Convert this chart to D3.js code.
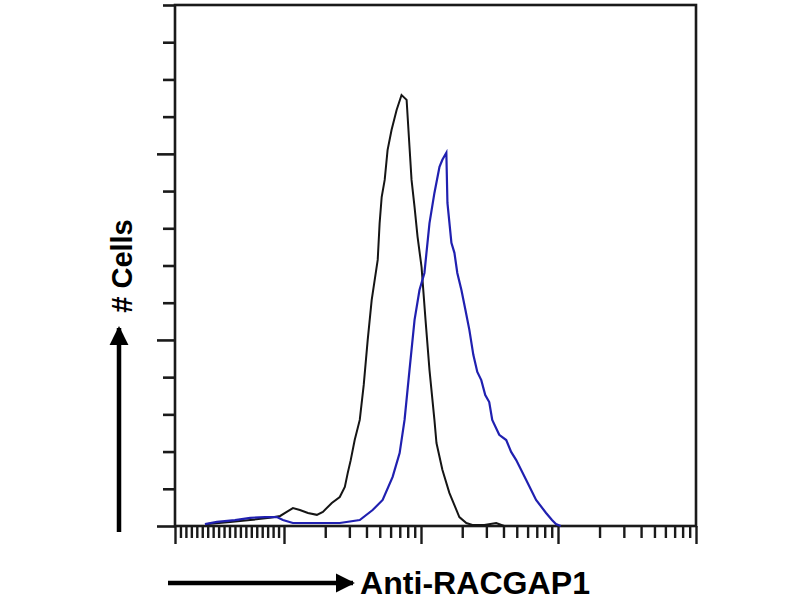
<!DOCTYPE html>
<html><head><meta charset="utf-8">
<script src="https://cdn.jsdelivr.net/npm/d3@7"></script>
<style>html,body{margin:0;padding:0;background:#fff}</style>
</head><body>
<svg id="chart" width="800" height="600"></svg>
<script>
// x values: log10 of fluorescence (first two units are the compressed/linear region)
const controlX = [0.55,1.01,1.38,1.74,1.93,2.02,2.065,2.116,2.175,2.24,2.284,2.349,2.407,2.444,2.465,2.487,2.516,2.553,2.582,2.611,2.64,2.684,2.698,2.713,2.735,2.756,2.785,2.822,2.858,2.895,2.916,2.931,2.953,2.975,3.004,3.033,3.062,3.098,3.113,3.156,3.207,3.28,3.331,3.375,3.462,3.549,3.607];
const controlY = [0.5,1.1,1.6,2.2,2.7,3.8,4.8,4.3,3.5,3.0,3.8,6.2,7.8,10.5,14.2,17.7,23.1,28.5,37.9,50.0,60.7,71.5,81.4,88.4,93.0,101.0,106.4,111.8,115.8,114.5,101.9,93.0,85.7,77.7,69.6,55.4,41.9,28.5,22.3,15.1,8.9,2.4,0.8,0.3,0.3,0.8,0];
const stainX = [0.55,0.77,1.1,1.38,1.65,1.87,1.98,2.065,2.24,2.407,2.553,2.647,2.72,2.793,2.844,2.88,2.916,2.953,2.989,3.025,3.062,3.098,3.135,3.156,3.185,3.193,3.222,3.244,3.265,3.295,3.324,3.353,3.382,3.411,3.44,3.469,3.498,3.52,3.571,3.622,3.658,3.695,3.767,3.84,3.913,3.956,3.985,4.02];
const stainY = [0.5,1.1,1.6,2.2,2.4,2.4,1.6,0.8,0.8,0.8,1.6,4.3,7.0,13.2,19.6,28.5,41.9,55.4,63.4,68.0,81.4,89.5,96.5,98.4,100.3,86.8,76.1,73.4,68.0,63.4,58.1,52.7,46.0,41.4,39.2,35.2,33.3,28.5,24.5,23.1,19.9,17.7,12.4,7.0,3.5,1.6,0.5,0];

const xLinearTicks = [0.1,0.2,0.3,0.4,0.5,0.6,0.7,0.8,0.9,1.0,1.1,1.2,1.3,1.4,1.5,1.6,1.7,1.8,1.9];
const xDecades = [2,3,4];
const xMultipliers = [2,3,4,5,6,7,8,9];
const xMajorTicks = [0,2,3,4,5];
const yMinorTicks = [10,20,30,40,60,70,80,90,110,120,130,140];
const yMajorTicks = [0,50,100];
const yLabel = "# Cells";
const xLabel = "Anti-RACGAP1";

const svg = d3.select("#chart");
const L = 175, R = 696, T = 5, B = 526;
const x = d3.scaleLinear().domain([0,2,3,4,5]).range([L,284,421,558,R]);
const y = d3.scaleLinear().domain([0,140]).range([B,T]);
const axisColor = "#1a1a1a";

const xMinor = xLinearTicks.concat(...xDecades.map(d => xMultipliers.map(m => d + Math.log10(m))));
const gx = svg.append("g").attr("transform", `translate(0,${B})`);
gx.call(d3.axisBottom(x).tickValues(xMinor).tickSize(12).tickFormat(""));
const gx2 = svg.append("g").attr("transform", `translate(0,${B})`);
gx2.call(d3.axisBottom(x).tickValues(xMajorTicks).tickSize(18).tickFormat(""));
[gx,gx2].forEach(g => {
  g.select(".domain").remove();
  g.selectAll("line").attr("stroke", axisColor).attr("stroke-width", 2.4);
});

const gy = svg.append("g").attr("transform", `translate(${L},0)`);
gy.call(d3.axisLeft(y).tickValues(yMinorTicks).tickSize(12).tickFormat(""));
const gy2 = svg.append("g").attr("transform", `translate(${L},0)`);
gy2.call(d3.axisLeft(y).tickValues(yMajorTicks).tickSize(18).tickFormat(""));
[gy,gy2].forEach(g => {
  g.select(".domain").remove();
  g.selectAll("line").attr("stroke", axisColor).attr("stroke-width", 2.6);
});

svg.append("rect").attr("x", L).attr("y", T).attr("width", R - L).attr("height", B - T)
  .attr("fill", "none").attr("stroke", axisColor).attr("stroke-width", 2.6);

const line = d3.line().x(d => x(d[0])).y(d => y(d[1]));
svg.append("path").datum(controlX.map((v,i) => [v, controlY[i]]))
  .attr("d", line).attr("fill", "none").attr("stroke", "#151515").attr("stroke-width", 2);
svg.append("path").datum(stainX.map((v,i) => [v, stainY[i]]))
  .attr("d", line).attr("fill", "none").attr("stroke", "#2020b0").attr("stroke-width", 2.2);

const defs = svg.append("defs");
defs.append("marker").attr("id","ah").attr("viewBox","0 0 10 10").attr("refX",9).attr("refY",5)
  .attr("markerWidth",4.2).attr("markerHeight",4.6).attr("markerUnits","strokeWidth").attr("orient","auto")
  .append("path").attr("d","M0,0 L10,5 L0,10 Z").attr("fill","#000");
svg.append("line").attr("x1",119).attr("y1",532).attr("x2",119).attr("y2",328)
  .attr("stroke","#000").attr("stroke-width",4.5).attr("marker-end","url(#ah)");
svg.append("line").attr("x1",168).attr("y1",583).attr("x2",353).attr("y2",583)
  .attr("stroke","#000").attr("stroke-width",4.5).attr("marker-end","url(#ah)");

svg.append("text").attr("transform","translate(132,266) rotate(-90)")
  .attr("text-anchor","middle").attr("font-family","Liberation Sans, Arial, sans-serif")
  .attr("font-weight","bold").attr("font-size",29).attr("fill","#000").text(yLabel);
svg.append("text").attr("x",360).attr("y",594)
  .attr("font-family","Liberation Sans, Arial, sans-serif").attr("textLength",230).attr("lengthAdjust","spacingAndGlyphs")
  .attr("font-weight","bold").attr("font-size",31).attr("fill","#000").text(xLabel);
</script>
</body></html>
